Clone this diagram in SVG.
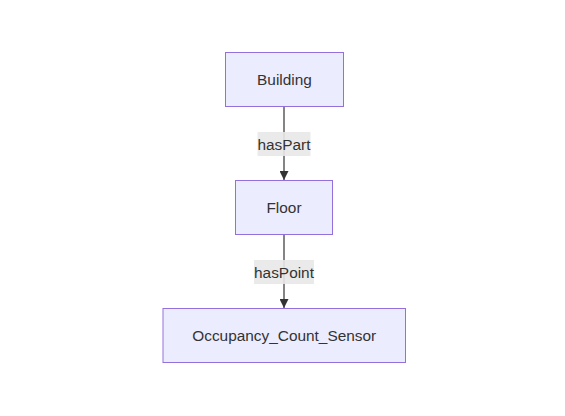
<svg xmlns="http://www.w3.org/2000/svg" width="565" height="416" viewBox="0 0 565 416">
<style>
.node rect{fill:#ECECFF;stroke:#9370DB;stroke-width:1px}
.node text,.lbl text{font-family:"Liberation Sans","DejaVu Sans",sans-serif;font-size:15.4px;fill:#333333;text-anchor:middle;dominant-baseline:central}
.edge{stroke:#333333;stroke-width:1.2px;fill:none}
.lbl rect{fill:#e8e8e8;fill-opacity:0.9}
</style>
<defs>
<marker id="arrow" viewBox="0 0 10 10" refX="10" refY="5" markerUnits="userSpaceOnUse" markerWidth="9" markerHeight="9" orient="auto">
<path d="M0,0 L10,5 L0,10 z" fill="#333333"/>
</marker>
</defs>
<rect width="565" height="416" fill="#ffffff"/>
<g id="connectors">
<path class="edge" d="M284,107 L284,180" marker-end="url(#arrow)"/>
<path class="edge" d="M284,235 L284,308" marker-end="url(#arrow)"/>
<g class="lbl"><rect x="257.5" y="132" width="53" height="24"/><text x="284" y="144">hasPart</text></g>
<g class="lbl"><rect x="254" y="260" width="60" height="24"/><text x="284" y="272">hasPoint</text></g>
</g>
<g id="node-building" class="node"><rect x="225.5" y="52.5" width="118" height="54"/><text x="284.5" y="79.5">Building</text></g>
<g id="node-floor" class="node"><rect x="235.5" y="180.5" width="97" height="54"/><text x="284" y="207.5">Floor</text></g>
<g id="node-sensor" class="node"><rect x="163" y="308.5" width="242.5" height="54"/><text x="284.2" y="335.5">Occupancy_Count_Sensor</text></g>
</svg>
